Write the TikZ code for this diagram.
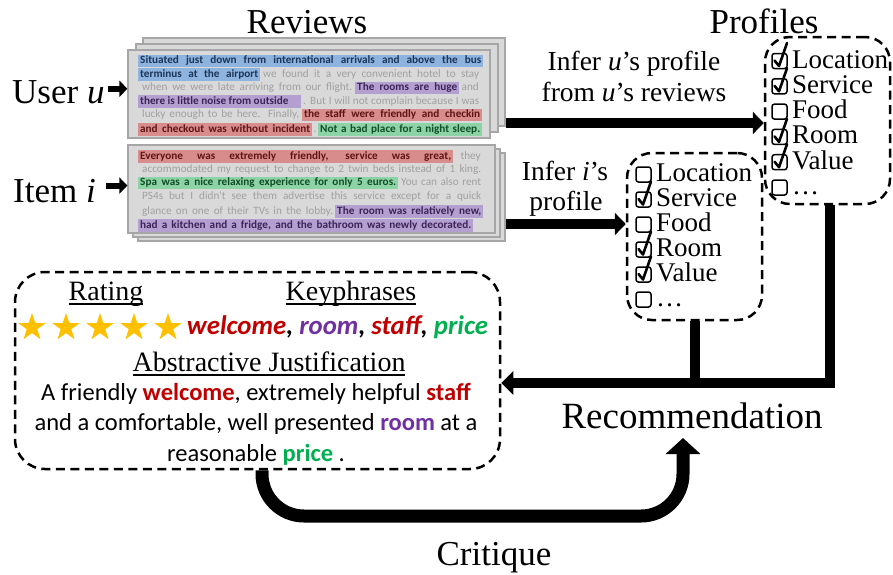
\documentclass[tikz,border=0pt]{standalone}
\usepackage{fontspec}
\setmainfont{Liberation Serif}
\newfontfamily\carl{Carlito}
\usetikzlibrary{arrows.meta,shapes.geometric}
\definecolor{hlB}{HTML}{8DB3DE}
\definecolor{txB}{HTML}{1B3558}
\definecolor{hlP}{HTML}{B4A0D0}
\definecolor{txP}{HTML}{3C2358}
\definecolor{hlR}{HTML}{D98C8C}
\definecolor{txR}{HTML}{5E1515}
\definecolor{hlG}{HTML}{8CD3A5}
\definecolor{txG}{HTML}{114D27}
\definecolor{txGray}{HTML}{A0A0A0}
\definecolor{sheet}{HTML}{D9D9D9}
\definecolor{sheetline}{HTML}{A6A6A6}
\definecolor{kwR}{HTML}{C00000}
\definecolor{kwP}{HTML}{7030A0}
\definecolor{kwG}{HTML}{00B050}
\definecolor{starc}{HTML}{FFC000}
\newcommand\uline[1]{\setbox0\hbox{#1}\rlap{\rule[-4.5pt]{\wd0}{1.6pt}}\box0}
\newcommand\hs[7]{\node[hl=#5, text=#6] (#1) at (#2,#4) {\makebox[\dimexpr#3pt-#2pt-4pt\relax][s]{\bfseries #7}};}
\newcommand\hn[7]{\node[hl=#5, text=#6] (#1) at (#2,#4) {\makebox[\dimexpr#3pt-#2pt-4pt\relax][l]{\bfseries #7}};}
\newcommand\gs[5]{\node[gr] (#1) at (#2,#4) {\makebox[\dimexpr#3pt-#2pt\relax][s]{#5}};}
\newcommand\prow[5]{%
  \node[cbox] (#1b) at (#2,#3) {};
  \node[ptext] (#1t) at (#2+12.5,#3+7) {#4};
  \ifnum#5=1 \draw[chk] (#2-5,#3-0.5) -- ++(4.5,5.5) -- ++(8,-23);\fi}
\begin{document}
\begin{tikzpicture}[x=1pt,y=-1pt,
  rv/.style={anchor=west, inner ysep=0.4pt, text height=8.8pt, text depth=2.9pt, font=\carl\fontsize{11.2}{13}\selectfont},
  hl/.style={rv, fill=#1, inner xsep=2pt},
  gr/.style={rv, inner xsep=0pt, text=txGray},
  sheetbox/.style={draw=sheetline, fill=sheet, line width=1.2pt, inner sep=0pt},
  dbox/.style={draw, line width=2.5pt, dash pattern=on 9pt off 5.5pt, rounded corners=25pt, inner sep=0pt},
  cbox/.style={draw, line width=1.5pt, rounded corners=2.5pt, minimum size=15pt, inner sep=0pt},
  chk/.style={line width=2.6pt, line cap=round, line join=round},
  ptext/.style={anchor=base west, inner sep=0pt, font=\fontsize{27}{30}\selectfont},
  big/.style={font=\fontsize{35}{40}\selectfont, inner sep=0pt},
  mid/.style={font=\fontsize{27.5}{31}\selectfont, inner sep=0pt, anchor=base},
  bigarrow/.style={line width=10pt, -{Triangle[length=11pt 0, width=22pt 0]}},
  smallarrow/.style={line width=6pt, -{Triangle[length=8pt 0, width=16pt 0]}},
  jt/.style={anchor=base, inner sep=0pt, font=\carl\fontsize{24.5}{30}\selectfont},
  star5/.style={star, star points=5, star point ratio=2.6, fill=starc, minimum size=29pt, inner sep=0pt}
]
\useasboundingbox (0,0) rectangle (893,574);

% titles
\node[big, anchor=base] (trev) at (307,33) {Reviews};
\node[big, anchor=base] (tprof) at (764,33) {Profiles};
\node[big, anchor=base west] (user) at (12,103) {User \textit{u}};
\node[big, anchor=base west] (item) at (13,202) {Item \textit{i}};

% review sheets (user)
\node[sheetbox, minimum width=362pt, minimum height=88pt] (ub2) at (324,82) {};
\node[sheetbox, minimum width=362pt, minimum height=88pt] (ub1) at (317,88) {};
\node[sheetbox, minimum width=362pt, minimum height=88pt] (ub0) at (309,94) {};
% review sheets (item)
\node[sheetbox, minimum width=367pt, minimum height=88pt] (ib2) at (321.5,197) {};
\node[sheetbox, minimum width=367pt, minimum height=88pt] (ib1) at (316.5,193) {};
\node[sheetbox, minimum width=367pt, minimum height=88pt] (ib0) at (311.5,189) {};

% user review text
\hs{u1}{138}{483}{61}{hlB}{txB}{Situated just down from international arrivals and above the bus}
\hs{u2a}{138}{260}{74.5}{hlB}{txB}{terminus at the airport}
\gs{u2b}{263}{479}{74.5}{we found it a very convenient hotel to stay}
\gs{u3a}{142}{352}{88}{when we were late arriving from our flight.}
\hs{u3b}{355}{459}{88}{hlP}{txP}{The rooms are huge}
\node[gr, anchor=east] (u3c) at (479,88) {and};
\hn{u4a}{138}{301}{101.5}{hlP}{txP}{there is little noise from outside}
\gs{u4b}{303}{479}{101.5}{. But I will not complain because I was}
\gs{u5a}{142}{299}{115}{lucky enough to be here. Finally,}
\hs{u5b}{302}{482}{115}{hlR}{txR}{the staff were friendly and checkin}
\hs{u6a}{138}{312}{129.5}{hlR}{txR}{and checkout was without incident}
\node[gr] (u6b) at (313.5,129.5) {.};
\hs{u6c}{318}{482}{129.5}{hlG}{txG}{Not a bad place for a night sleep.}

% item review text
\hs{i1a}{138}{453}{156.5}{hlR}{txR}{Everyone was extremely friendly, service was great,}
\node[gr, anchor=east] (i1b) at (481,156.5) {they};
\gs{i2}{142}{481}{169.5}{accommodated my request to change to 2 twin beds instead of 1 king.}
\hs{i3a}{138}{398}{183}{hlG}{txG}{Spa was a nice relaxing experience for only 5 euros.}
\gs{i3b}{401}{481}{183}{You can also rent}
\gs{i4}{142}{481}{197}{PS4s but I didn't see them advertise this service except for a quick}
\gs{i5a}{142}{333}{211.5}{glance on one of their TVs in the lobby.}
\hs{i5b}{335}{483}{211.5}{hlP}{txP}{The room was relatively new,}
\hs{i6}{138}{473}{225.5}{hlP}{txP}{had a kitchen and a fridge, and the bathroom was newly decorated.}

% small arrows
\draw[smallarrow] (user.east) ++(3,-3) coordinate (ua0) -- (ua0 -| ub0.west);
\draw[smallarrow] (item.east) ++(10,-5) coordinate (ia0) -- (ia0 -| ib0.west);

% profile boxes
\node[dbox, minimum width=125pt, minimum height=167pt] (uprof) at (827.5,120.5) {};
\node[dbox, minimum width=135pt, minimum height=167pt] (iprof) at (694.5,236.5) {};

\prow{pu1}{779.5}{61}{Location}{1}
\prow{pu2}{779.5}{86.3}{Service}{1}
\prow{pu3}{779.5}{111.6}{Food}{0}
\prow{pu4}{779.5}{136.9}{Room}{1}
\prow{pu5}{779.5}{162.2}{Value}{1}
\prow{pu6}{779.5}{187.5}{\dots}{0}

\prow{pi1}{643.5}{174.5}{Location}{0}
\prow{pi2}{643.5}{199.5}{Service}{1}
\prow{pi3}{643.5}{224.5}{Food}{0}
\prow{pi4}{643.5}{249.5}{Room}{1}
\prow{pi5}{643.5}{274.5}{Value}{1}
\prow{pi6}{643.5}{299.5}{\dots}{0}

% infer labels
\node[mid] (inferu1) at (634,70) {Infer \textit{u}’s profile};
\node[mid] (inferu2) at (634,101) {from \textit{u}’s reviews};
\node[mid] (inferi1) at (565,180) {Infer \textit{i}’s};
\node[mid] (inferi2) at (566,210) {profile};

% inference arrows
\coordinate (uy) at (0,123);
\coordinate (iy) at (0,224);
\draw[bigarrow] (ub2.east |- uy) -- (uprof.west |- uy);
\draw[bigarrow] (ib2.east |- iy) -- (iprof.west |- iy);

% justification box
\node[dbox, rounded corners=30pt, minimum width=485pt, minimum height=197pt] (just) at (257.5,370.5) {};
\node[anchor=base, inner sep=0pt, font=\fontsize{28}{30}\selectfont] (rating) at (106,300) {\uline{Rating}};
\node[anchor=base, inner sep=0pt, font=\fontsize{28}{30}\selectfont] (keyh) at (351,300) {\uline{Keyphrases}};
\foreach \k/\x in {1/32,2/66,3/100,4/134,5/168}{
  \node[star5] (s\k) at (\x,327.5) {};
}
\node[anchor=base, inner sep=0pt, font=\carl\bfseries\itshape\fontsize{26.8}{30}\selectfont] (kw) at (337.5,334)
  {\textcolor{kwR}{welcome}, \textcolor{kwP}{room}, \textcolor{kwR}{staff}, \textcolor{kwG}{price}};
\node[anchor=base, inner sep=0pt, font=\fontsize{28}{30}\selectfont] (absj) at (269,371.5) {\uline{Abstractive Justification}};
\node[jt] (j1) at (256,400) {A friendly \textcolor{kwR}{\bfseries welcome}, extremely helpful \textcolor{kwR}{\bfseries staff}};
\node[jt] (j2) at (256,430.5) {and a comfortable, well presented \textcolor{kwP}{\bfseries room} at a};
\node[jt] (j3) at (256,461) {reasonable \textcolor{kwG}{\bfseries price} .};

% recommendation
\node[big, anchor=base, font=\fontsize{37}{40}\selectfont] (rec) at (692,428) {Recommendation};
\coordinate (ry) at (0,383);
\draw[line width=10pt] (iprof.south) -- (iprof.south |- ry);
\draw[line width=10pt, -{Triangle[length=12pt 0, width=23pt 0]}] (uprof.south -| 830,0) -- (830,383) -- (just.east |- ry);

% critique
\node[big, anchor=base] (crit) at (494,565) {Critique};
\coordinate (cL) at (262,516);
\coordinate (cR) at (683,516);
\coordinate (cT) at (683,438);
\draw[line width=13pt, rounded corners=42pt, -{Triangle[length=16pt 0, width=34pt 0]}] (just.south -| cL) -- (cL) -- (cR) -- (cT);
\end{tikzpicture}
\end{document}
